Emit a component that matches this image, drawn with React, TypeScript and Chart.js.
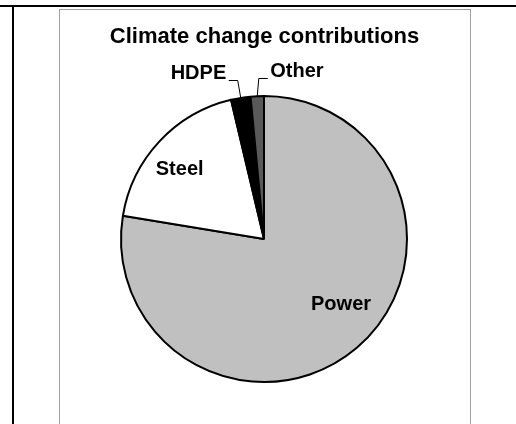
import { useEffect, useRef } from "react";
import { Chart, registerables } from "chart.js";

Chart.register(...registerables);

const chartTitle = "Climate change contributions";
const categories = ["Power", "Steel", "HDPE", "Other"];
const shares = [77.6, 18.7, 2.2, 1.5];
const sliceColors = ["#c0c0c0", "#ffffff", "#000000", "#595959"];

const W = 516;
const H = 424;
const FONT = '"Liberation Sans", Arial, sans-serif';

// label placement styles (not data)
const labelStyle: any[] = [
  { mode: "inside", angleOffset: -10, radius: 0.7 },
  { mode: "inside", angleOffset: -3, radius: 0.77 },
  { mode: "left", dx: -3, up: 18, run: 9 },
  { mode: "right", dx: 1.5, up: 18, run: 9 },
];

const decorPlugin = {
  id: "decor",
  beforeDraw(chart: any) {
    const ctx = chart.ctx;
    ctx.save();
    ctx.fillStyle = "#ffffff";
    ctx.fillRect(0, 0, W, H);
    ctx.fillStyle = "#000000";
    ctx.fillRect(0, 5, W, 2);
    ctx.fillRect(12, 5, 2, H - 5);
    ctx.strokeStyle = "#a0a0a0";
    ctx.lineWidth = 1;
    ctx.strokeRect(59.5, 9.5, 411, 440);
    ctx.fillStyle = "#000000";
    ctx.font = `bold 22px ${FONT}`;
    ctx.textAlign = "center";
    ctx.textBaseline = "alphabetic";
    ctx.fillText(chartTitle, 264.5, 43);
    ctx.restore();
  },
  afterDraw(chart: any) {
    const ctx = chart.ctx;
    const meta = chart.getDatasetMeta(0);
    ctx.save();
    ctx.font = `bold 20px ${FONT}`;
    ctx.fillStyle = "#000000";
    ctx.strokeStyle = "#000000";
    ctx.lineWidth = 1;
    ctx.textBaseline = "alphabetic";
    meta.data.forEach((arc: any, i: number) => {
      const p = arc.getProps(["x", "y", "startAngle", "endAngle", "outerRadius"], true);
      const mid = (p.startAngle + p.endAngle) / 2;
      const st = labelStyle[i];
      const label = categories[i];
      if (st.mode === "inside") {
        const a = mid + (st.angleOffset * Math.PI) / 180;
        const px = p.x + Math.cos(a) * p.outerRadius * st.radius;
        const py = p.y + Math.sin(a) * p.outerRadius * st.radius;
        ctx.textAlign = "center";
        ctx.fillText(label, px, py + 7);
      } else {
        const ex = p.x + Math.cos(mid) * p.outerRadius;
        const ey = p.y + Math.sin(mid) * p.outerRadius;
        const bx = ex + st.dx;
        const by = ey - st.up;
        const dir = st.mode === "left" ? -1 : 1;
        const hx = bx + dir * st.run;
        ctx.beginPath();
        ctx.moveTo(ex, ey);
        ctx.lineTo(bx, Math.round(by) + 0.5);
        ctx.lineTo(hx, Math.round(by) + 0.5);
        ctx.stroke();
        ctx.textAlign = st.mode === "left" ? "right" : "left";
        ctx.fillText(label, hx + dir * 2.5, by - 1);
      }
    });
    ctx.restore();
  },
};

export default function App() {
  const ref = useRef<HTMLCanvasElement | null>(null);
  useEffect(() => {
    if (!ref.current) return;
    const chart = new Chart(ref.current, {
      type: "pie",
      data: {
        labels: categories,
        datasets: [
          {
            data: shares,
            backgroundColor: sliceColors,
            borderColor: "#000000",
            borderWidth: 2,
          },
        ],
      },
      options: {
        responsive: false,
        animation: false,
        devicePixelRatio: 1,
        layout: { padding: { left: 120, top: 95, right: 108, bottom: 41 } },
        plugins: {
          legend: { display: false },
          tooltip: { enabled: false },
          title: { display: false },
        },
      },
      plugins: [decorPlugin],
    });
    return () => chart.destroy();
  }, []);
  return (
    <div style={{ position: "fixed", left: 0, top: 0, width: W, height: H, background: "#fff" }}>
      <canvas ref={ref} width={W} height={H} style={{ display: "block" }} />
    </div>
  );
}
